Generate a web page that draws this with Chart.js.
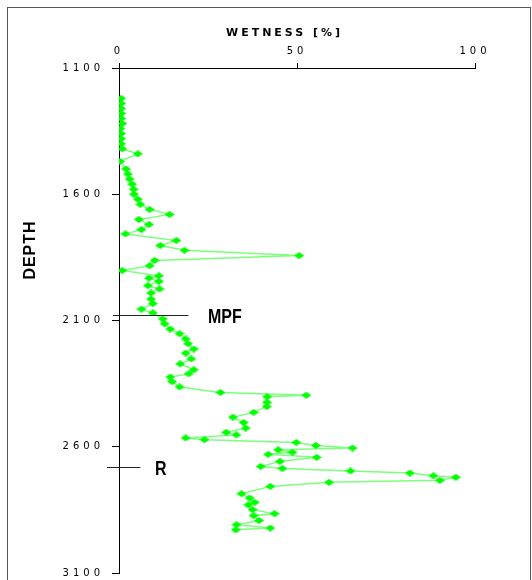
<!DOCTYPE html>
<html>
<head>
<meta charset="utf-8">
<script src="https://cdn.jsdelivr.net/npm/chart.js@4.4.0/dist/chart.umd.min.js"></script>
<style>
  html, body { margin: 0; padding: 0; background: #fff; }
</style>
</head>
<body>
<canvas id="chart" width="532" height="580"></canvas>
<script>
const depth = [
    1220, 1240, 1260, 1280, 1300, 1320, 1340, 1360, 1380, 1400,
    1420, 1440, 1470, 1500, 1520, 1540, 1560, 1580, 1600, 1620,
    1640, 1660, 1680, 1700, 1720, 1740, 1757, 1783, 1803, 1822,
    1843, 1862, 1883, 1902, 1923, 1932, 1945, 1962, 1975, 1991,
    2015, 2033, 2055, 2070, 2094, 2113, 2134, 2152, 2173, 2192,
    2213, 2229, 2252, 2272, 2295, 2311, 2324, 2342, 2363, 2385,
    2396, 2402, 2424, 2441, 2464, 2483, 2504, 2526, 2543, 2553,
    2565, 2572, 2583, 2595, 2605, 2612, 2622, 2630, 2642, 2658,
    2678, 2686, 2696, 2704, 2715, 2721, 2733, 2741, 2757, 2786,
    2803, 2820, 2830, 2849, 2865, 2873, 2892, 2909, 2922, 2929
];
const wetness = [
    0.6, 0.6, 0.6, 0.6, 0.6, 0.9, 0.4, 0.6, 0.6, 0.6,
    0.9, 5.3, 0.3, 2.0, 2.5, 3.0, 3.7, 4.1, 4.2, 5.3,
    6.0, 8.6, 14.2, 5.6, 8.4, 6.3, 1.8, 16.1, 11.6, 18.4,
    50.6, 10.0, 8.6, 0.9, 11.2, 8.4, 11.2, 8.1, 11.4, 9.0,
    9.0, 9.5, 6.3, 9.5, 12.3, 12.8, 14.4, 17.0, 18.7, 19.4,
    21.0, 18.7, 20.3, 17.2, 21.0, 19.6, 14.4, 14.9, 17.0, 28.5,
    52.6, 41.6, 41.6, 41.5, 37.8, 32.0, 35.0, 35.6, 30.1, 33.0,
    18.7, 24.0, 49.8, 55.3, 65.6, 44.7, 48.7, 41.9, 55.5, 45.2,
    39.8, 45.9, 65.0, 81.7, 88.3, 94.6, 90.1, 59.0, 42.5, 34.4,
    36.7, 38.1, 36.3, 37.5, 43.7, 37.8, 39.3, 33.0, 42.5, 32.8
];
const wetnessTicks = [0, 50, 100];
const depthTicks = [1100, 1600, 2100, 2600, 3100];
const markerLabels = ['MPF', 'R'];
const markerDepths = [2077, 2680];

// flat green diamond used as point style
function diamond(w, h) {
    const c = document.createElement('canvas');
    c.width = w;
    c.height = h;
    const g = c.getContext('2d');
    g.fillStyle = '#00ff00';
    g.beginPath();
    g.moveTo(w / 2, 0);
    g.lineTo(w, h / 2);
    g.lineTo(w / 2, h);
    g.lineTo(0, h / 2);
    g.closePath();
    g.fill();
    return c;
}

// marker line extents: px left of axis, wetness value at right end, label x
const markerStyle = [
    { back: 6, to: 19.5, tx: 208 },
    { back: 12, to: 6, tx: 155 }
];

const annotate = {
    id: 'annotate',
    beforeDraw(chart) {
        chart.ctx.letterSpacing = '4px';
    },
    afterDraw(chart) {
        const ctx = chart.ctx;
        const xs = chart.scales.x;
        const ys = chart.scales.y;
        ctx.save();
        ctx.letterSpacing = '0px';

        // frame
        ctx.strokeStyle = '#555';
        ctx.lineWidth = 1;
        ctx.strokeRect(7.5, 7.5, 523, 580);

        // MPF / R lines
        ctx.strokeStyle = '#222';
        ctx.fillStyle = '#000';
        markerLabels.forEach((label, i) => {
            const st = markerStyle[i];
            const py = Math.round(ys.getPixelForValue(markerDepths[i])) + 0.5;
            ctx.beginPath();
            ctx.moveTo(xs.left - st.back, py);
            ctx.lineTo(xs.getPixelForValue(st.to), py);
            ctx.stroke();

            ctx.save();
            ctx.translate(st.tx, py + 2);
            ctx.scale(0.8, 1);
            ctx.font = 'bold 20px "Liberation Sans", Arial, sans-serif';
            ctx.textBaseline = 'middle';
            ctx.textAlign = 'left';
            ctx.fillText(label, 0, 0);
            ctx.restore();
        });

        // axis titles
        ctx.font = 'bold 11px "DejaVu Sans", sans-serif';
        ctx.letterSpacing = '3px';
        ctx.textBaseline = 'middle';
        ctx.textAlign = 'left';
        ctx.fillText('WETNESS [%]', 226, 33);

        ctx.save();
        ctx.translate(31, 250);
        ctx.rotate(-Math.PI / 2);
        ctx.font = 'bold 16px "Liberation Sans", Arial, sans-serif';
        ctx.letterSpacing = '1px';
        ctx.textAlign = 'center';
        ctx.fillText('DEPTH', 0, 0);
        ctx.restore();

        ctx.restore();
        ctx.letterSpacing = '0px';
    }
};

const points = depth.map((d, i) => ({ x: wetness[i], y: d }));

new Chart(document.getElementById('chart').getContext('2d'), {
    type: 'scatter',
    data: {
        datasets: [{
            data: points,
            showLine: true,
            borderColor: 'rgba(80,255,80,0.75)',
            borderWidth: 1.5,
            pointStyle: diamond(10, 7),
            pointRadius: 4,
            pointHoverRadius: 4
        }]
    },
    options: {
        responsive: false,
        animation: false,
        events: [],
        layout: { padding: { left: 0, top: 0, right: 57, bottom: 7 } },
        plugins: {
            legend: { display: false },
            tooltip: { enabled: false }
        },
        scales: {
            x: {
                type: 'linear',
                position: 'top',
                min: 0,
                max: 100,
                afterBuildTicks: s => { s.ticks = wetnessTicks.map(v => ({ value: v })); },
                afterFit: s => {
                    s.height = 68;
                    s.paddingLeft = 0;
                    s.paddingRight = 0;
                },
                grid: { drawOnChartArea: false, drawTicks: true, tickLength: 5, color: '#000' },
                border: { display: true, color: '#000', width: 1 },
                ticks: {
                    font: { family: 'DejaVu Sans', size: 10 },
                    color: '#000',
                    padding: 6,
                    maxRotation: 0,
                    callback: v => String(v)
                }
            },
            y: {
                type: 'linear',
                reverse: true,
                min: 1100,
                max: 3100,
                afterBuildTicks: s => { s.ticks = depthTicks.map(v => ({ value: v })); },
                afterFit: s => {
                    s.width = 119;
                    s.paddingTop = 0;
                    s.paddingBottom = 0;
                },
                grid: { drawOnChartArea: false, drawTicks: true, tickLength: 7, color: '#000' },
                border: { display: true, color: '#000', width: 1 },
                ticks: {
                    font: { family: 'DejaVu Sans', size: 10 },
                    color: '#000',
                    padding: 8,
                    callback: v => String(v)
                }
            }
        }
    },
    plugins: [annotate]
});
</script>
</body>
</html>
